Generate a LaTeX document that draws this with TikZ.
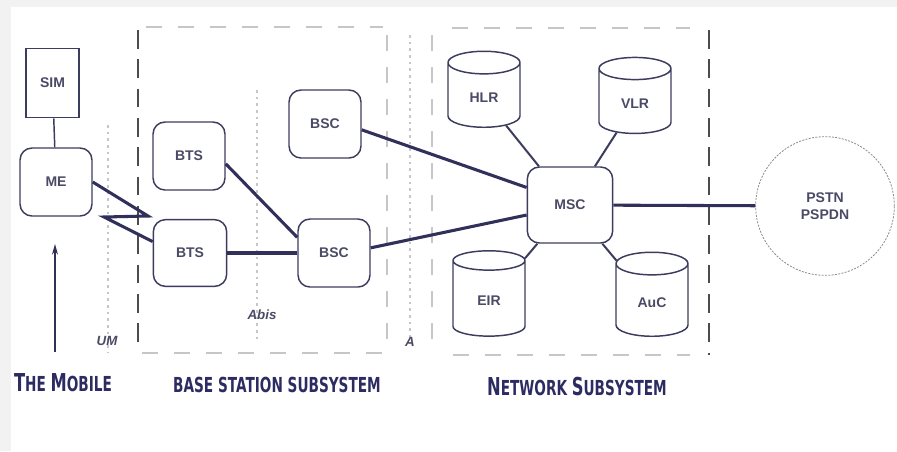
\documentclass[tikz,border=0pt]{standalone}
\usepackage{fontspec}
\setmainfont{Liberation Sans}
\newfontfamily\regionfont{DejaVu Sans}[FakeStretch=0.66]
\usetikzlibrary{shapes.geometric,arrows.meta}
\definecolor{navy}{HTML}{30305A}
\definecolor{boxline}{HTML}{3C3C5E}
\definecolor{boxtext}{HTML}{4A4A66}
\definecolor{framegray}{HTML}{4C4C4C}
\definecolor{faintgray}{HTML}{C6C6CA}
\definecolor{regionblue}{HTML}{2C2C62}
\newcommand\bigletter[1]{{\fontsize{18.5}{20}\selectfont #1}}
\begin{document}
\begin{tikzpicture}[x=0.75pt,y=-0.75pt,
  unit/.style={draw=boxline,line width=1.1pt,rounded corners=9pt,fill=white,minimum width=54pt,minimum height=51pt,font=\bfseries\fontsize{10.5}{12}\selectfont,text=boxtext},
  store/.style={cylinder,shape border rotate=90,aspect=0.6,draw=boxline,line width=1.1pt,fill=white,minimum width=54pt,minimum height=57pt,font=\bfseries\fontsize{10.5}{12}\selectfont,text=boxtext},
  trunk/.style={draw=navy,line width=2.3pt},
  feeder/.style={draw=boxline,line width=1.5pt},
  border/.style={draw=framegray,line width=1.2pt,dash pattern=on 14pt off 8pt},
  faint/.style={draw=faintgray,line width=0.9pt,dash pattern=on 12pt off 12pt},
  iface/.style={draw=faintgray,line width=0.9pt,dash pattern=on 2pt off 3pt},
  iflabel/.style={font=\bfseries\itshape\fontsize{10}{12}\selectfont,text=boxtext},
  region/.style={font=\regionfont\bfseries\fontsize{15.5}{18}\selectfont,text=regionblue}]
\useasboundingbox[fill=white] (0,0) rectangle (897,451);
\fill[black!5] (0,0) rectangle (897,7);
\fill[black!5] (0,0) rectangle (11,451);

\draw[border] (138,30)--(138,352);
\draw[border] (709,30)--(709,355);
\draw[faint] (146,27)--(383,27);
\draw[faint] (452,28)--(690,28);
\draw[faint] (142,353)--(383,353);
\draw[faint] (453,355)--(690,355);
\draw[faint] (387,35)--(387,350);
\draw[faint] (432,35)--(432,346);
\draw[iface] (108,125)--(108,352);
\draw[iface] (257,90)--(257,340);
\draw[iface] (410,35)--(410,345);

\node[unit,rounded corners=0pt,minimum width=40pt,minimum height=52pt] (sim) at (52.5,83) {SIM};
\node[unit] (me) at (56,182) {ME};
\node[unit] (bts1) at (189,156) {BTS};
\node[unit,minimum width=55pt,minimum height=50pt] (bts2) at (190,253) {BTS};
\node[unit] (bsc1) at (325,124) {BSC};
\node[unit] (bsc2) at (334,253) {BSC};
\node[unit,minimum width=64pt,minimum height=57pt] (msc) at (570,205) {MSC};
\node[store] (hlr) at (484,98) {HLR};
\node[store] (vlr) at (635,104) {VLR};
\node[store,minimum height=64pt] (eir) at (489,301) {EIR};
\node[store,minimum height=63pt] (auc) at (652,303) {AuC};
\node[circle,draw=black!45,line width=0.6pt,dash pattern=on 1.5pt off 1pt,minimum size=104pt,align=center,font=\bfseries\fontsize{10.5}{13}\selectfont,text=boxtext] (pstn) at (825,206) {PSTN\\PSPDN};

\coordinate (zz1) at (148,216);
\coordinate (zz2) at (104,217);
\coordinate (mob) at (55,352);
\coordinate (up) at (55,244);

\draw[boxline,line width=1.1pt] (sim)--(me);
\draw[trunk,line join=miter] (me.east)--(zz1)--(zz2)--(bts2.163);
\draw[trunk] (bts1.-12)--(bsc2.157);
\draw[trunk] (bts2)--(bsc2);
\draw[trunk] (bsc1.-9)--(msc.158);
\draw[trunk] (bsc2.8)--(msc.-167);
\draw[trunk] (msc)--(pstn);
\draw[feeder] (hlr)--(msc);
\draw[feeder] (vlr)--(msc);
\draw[feeder] (eir)--(msc);
\draw[feeder] (auc)--(msc);
\draw[navy,line width=1.1pt,-{Stealth[length=8pt,width=4.5pt]}] (mob)--(up);

\node[iflabel] (um) at (107,341) {UM};
\node[iflabel] (abis) at (262,315) {Abis};
\node[iflabel] (aif) at (410,342) {A};
\node[region] (mobile) at (63,383) {\bigletter{T}HE \bigletter{M}OBILE};
\node[region] (bss) at (277,385) {BASE STATION SUBSYSTEM};
\node[region] (nss) at (577,387) {\bigletter{N}ETWORK \bigletter{S}UBSYSTEM};
\end{tikzpicture}
\end{document}
